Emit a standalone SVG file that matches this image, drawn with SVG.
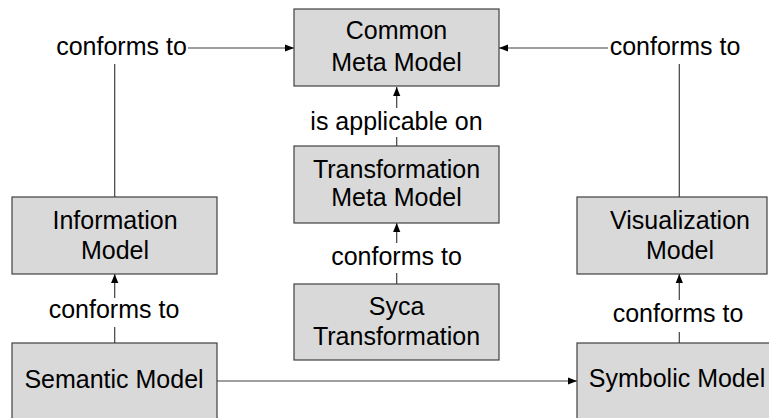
<svg xmlns="http://www.w3.org/2000/svg" width="769" height="418" viewBox="0 0 769 418">
<style>
.box{fill:#d9d9d9;stroke:#404040;stroke-width:1.2}
.t{font-family:"Liberation Sans",Arial,sans-serif;font-size:25px;fill:#000;text-anchor:middle}
.c{fill:none;stroke:#404040;stroke-width:1.2}
</style>
<defs>
<marker id="ah" viewBox="0 0 10 10" refX="10" refY="5" markerWidth="9" markerHeight="9" markerUnits="userSpaceOnUse" orient="auto">
<path d="M0,1 L10,5 L0,9 Z" fill="#000"/>
</marker>
</defs>
<rect width="769" height="418" fill="#fff"/>
<g id="connectors">
<polyline class="c" points="114.7,197 114.7,64"/>
<line class="c" x1="188" y1="48" x2="294" y2="48" marker-end="url(#ah)"/>
<polyline class="c" points="679.3,197 679.3,64"/>
<line class="c" x1="608" y1="48" x2="499" y2="48" marker-end="url(#ah)"/>
<line class="c" x1="396.7" y1="108" x2="396.7" y2="87" marker-end="url(#ah)"/>
<line class="c" x1="396.7" y1="146" x2="396.7" y2="137"/>
<line class="c" x1="396.7" y1="243" x2="396.7" y2="223" marker-end="url(#ah)"/>
<line class="c" x1="396.7" y1="284" x2="396.7" y2="273"/>
<line class="c" x1="114.7" y1="298" x2="114.7" y2="274" marker-end="url(#ah)"/>
<line class="c" x1="114.7" y1="343" x2="114.7" y2="327"/>
<line class="c" x1="679.3" y1="300" x2="679.3" y2="274" marker-end="url(#ah)"/>
<line class="c" x1="679.3" y1="343" x2="679.3" y2="332"/>
<line class="c" x1="217" y1="381" x2="577" y2="381" marker-end="url(#ah)"/>
<text class="t" x="121.5" y="55">conforms to</text>
<text class="t" x="675" y="55">conforms to</text>
<text class="t" x="396.5" y="130">is applicable on</text>
<text class="t" x="396.5" y="265">conforms to</text>
<text class="t" x="114" y="318">conforms to</text>
<text class="t" x="678" y="322">conforms to</text>
</g>
<g id="common">
<rect class="box" x="294" y="9" width="205" height="77"/>
<text class="t" x="396.5" y="39">Common</text>
<text class="t" x="396.5" y="71">Meta Model</text>
</g>
<g id="transformation">
<rect class="box" x="294" y="146" width="205" height="77"/>
<text class="t" x="396.5" y="178">Transformation</text>
<text class="t" x="396.5" y="206">Meta Model</text>
</g>
<g id="syca">
<rect class="box" x="294" y="284" width="205" height="76"/>
<text class="t" x="396.5" y="315">Syca</text>
<text class="t" x="396.5" y="345">Transformation</text>
</g>
<g id="information">
<rect class="box" x="12" y="197" width="205" height="77"/>
<text class="t" x="115" y="229">Information</text>
<text class="t" x="115" y="259">Model</text>
</g>
<g id="visualization">
<rect class="box" x="577" y="197" width="190" height="77"/>
<text class="t" x="680" y="229">Visualization</text>
<text class="t" x="680" y="259">Model</text>
</g>
<g id="semantic">
<rect class="box" x="12" y="343" width="205" height="90"/>
<text class="t" x="114" y="388">Semantic Model</text>
</g>
<g id="symbolic">
<rect class="box" x="577" y="343" width="205" height="90"/>
<text class="t" x="677" y="387">Symbolic Model</text>
</g>
</svg>
